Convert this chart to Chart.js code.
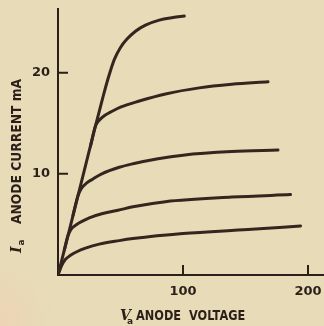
<!DOCTYPE html>
<html>
<head>
  <meta charset="utf-8" />
  <script src="https://cdn.jsdelivr.net/npm/chart.js@4.4.1/dist/chart.umd.min.js"></script>
  <style>
    html,body{margin:0;padding:0;}
    body{
      width:324px;height:326px;overflow:hidden;
      background:
        radial-gradient(ellipse 55px 70px at 0px 326px, rgba(238,208,178,0.7), rgba(238,208,178,0) 100%),
        #e7dcb7;
    }
    #wrap{position:relative;width:324px;height:326px;}
  </style>
</head>
<body>
<div id="wrap"><canvas id="chart" width="324" height="326"></canvas></div>

<script>
/* ---------- Anode characteristics (Va in volts, Ia in mA) ---------- */
const X_TICKS = [100, 200];
const Y_TICKS = [10, 20];

// outermost curve, rises straight from the origin then levels off
const curveTopV = [0, 8, 16, 24, 30, 36, 40, 45, 50, 55, 62, 70, 81, 92, 101];
const curveTopI = [0, 3.9, 7.85, 11.8, 14.75, 17.6, 19.4, 21.3, 22.5, 23.3, 24.1, 24.7, 25.2, 25.45, 25.6];

// the next three branch off the steep line
const curve2V = [26, 30, 33, 37, 42, 50, 65, 86, 113, 139, 168];
const curve2I = [12.75, 14.75, 15.3, 15.75, 16.1, 16.6, 17.2, 17.9, 18.5, 18.85, 19.1];

const curve3V = [12, 16, 19, 23, 28, 35, 49, 60, 80, 100, 139, 176];
const curve3I = [5.9, 7.85, 8.6, 9.1, 9.5, 10.0, 10.65, 11.0, 11.5, 11.85, 12.2, 12.35];

const curve4V = [5, 8, 11, 15, 20, 25, 35, 48, 60, 86, 139, 186];
const curve4I = [2.45, 3.9, 4.6, 5.0, 5.35, 5.65, 6.05, 6.4, 6.75, 7.25, 7.7, 7.95];

// lowest curve, from the origin
const curve5V = [0, 3, 6, 10, 15, 22, 33, 49, 60, 100, 152, 194];
const curve5I = [0, 0.95, 1.55, 1.95, 2.3, 2.65, 3.05, 3.4, 3.6, 4.1, 4.5, 4.85];

const INK = '#2c1f1a';
const LINE = '#34251f';

const pts = (vs, is) => vs.map((v, k) => ({ x: v, y: is[k] }));

const curveSet = (vs, is) => ({
  data: pts(vs, is),
  borderColor: LINE,
  borderWidth: 3,
  pointRadius: 0,
  fill: false,
  cubicInterpolationMode: 'monotone',
  borderCapStyle: 'round',
  borderJoinStyle: 'round'
});

/* ---------- inward tick marks and axis titles ---------- */
const inkPlugin = {
  id: 'ink',
  afterDraw(chart) {
    const { ctx, chartArea: a, scales: { x, y } } = chart;
    ctx.save();
    ctx.strokeStyle = INK;
    ctx.lineWidth = 2;
    ctx.beginPath();
    X_TICKS.forEach(v => {
      const px = x.getPixelForValue(v);
      ctx.moveTo(px, a.bottom - 10); ctx.lineTo(px, a.bottom);
    });
    Y_TICKS.forEach(v => {
      const py = y.getPixelForValue(v);
      ctx.moveTo(a.left, py); ctx.lineTo(a.left + 10, py);
    });
    ctx.stroke();

    ctx.fillStyle = INK;
    ctx.textBaseline = 'alphabetic';
    ctx.textAlign = 'left';

    // x title: Va ANODE VOLTAGE
    ctx.font = 'bold italic 14px "DejaVu Serif"';
    ctx.fillText('V', 120, 320);
    ctx.font = 'bold 9px "DejaVu Sans"';
    ctx.fillText('a', 127, 324);
    ctx.save();
    ctx.translate(136, 320);
    ctx.scale(0.81, 1);
    ctx.font = 'bold 14px "DejaVu Sans"';
    ctx.fillText('ANODE  VOLTAGE', 0, 0);
    ctx.restore();

    // y title: Ia ANODE CURRENT mA
    ctx.save();
    ctx.translate(21, 253);
    ctx.rotate(-Math.PI / 2);
    ctx.font = 'bold italic 14px "DejaVu Serif"';
    ctx.fillText('I', 0, 0);
    const wI = ctx.measureText('I').width;
    ctx.font = 'bold 9px "DejaVu Sans"';
    ctx.fillText('a', wI + 1, 3);
    ctx.translate(29, 0);
    ctx.scale(0.88, 1);
    ctx.font = 'bold 14px "DejaVu Sans"';
    ctx.fillText('ANODE CURRENT mA', 0, 0);
    ctx.restore();

    ctx.restore();
  }
};

const tickFont = { family: '"DejaVu Sans"', size: 13, weight: 'bold' };

// keep the plot area fixed: no extra room for overhanging tick labels
const noPad = s => { s.paddingLeft = 0; s.paddingRight = 0; s.paddingTop = 0; s.paddingBottom = 0; };

new Chart(document.getElementById('chart'), {
  type: 'line',
  data: {
    datasets: [
      curveSet(curveTopV, curveTopI),
      curveSet(curve2V, curve2I),
      curveSet(curve3V, curve3I),
      curveSet(curve4V, curve4I),
      curveSet(curve5V, curve5I)
    ]
  },
  options: {
    responsive: false,
    animation: false,
    layout: { padding: { top: 9, right: 0, bottom: 0, left: 0 } },
    plugins: { legend: { display: false }, tooltip: { enabled: false } },
    scales: {
      x: {
        type: 'linear',
        min: 0,
        max: 212.8,
        afterFit: s => { s.height = 51; noPad(s); },
        afterBuildTicks: s => { s.ticks = X_TICKS.map(v => ({ value: v })); },
        grid: { display: false, drawTicks: false },
        border: { display: true, color: INK, width: 2 },
        ticks: { color: INK, font: tickFont, padding: 9, maxRotation: 0, callback: v => String(v) }
      },
      y: {
        type: 'linear',
        min: 0,
        max: 26.3,
        afterFit: s => { s.width = 58; noPad(s); },
        afterBuildTicks: s => { s.ticks = Y_TICKS.map(v => ({ value: v })); },
        grid: { display: false, drawTicks: false },
        border: { display: true, color: INK, width: 2 },
        ticks: { color: INK, font: tickFont, padding: 8, callback: v => String(v) }
      }
    }
  },
  plugins: [inkPlugin]
});
</script>
</body>
</html>
